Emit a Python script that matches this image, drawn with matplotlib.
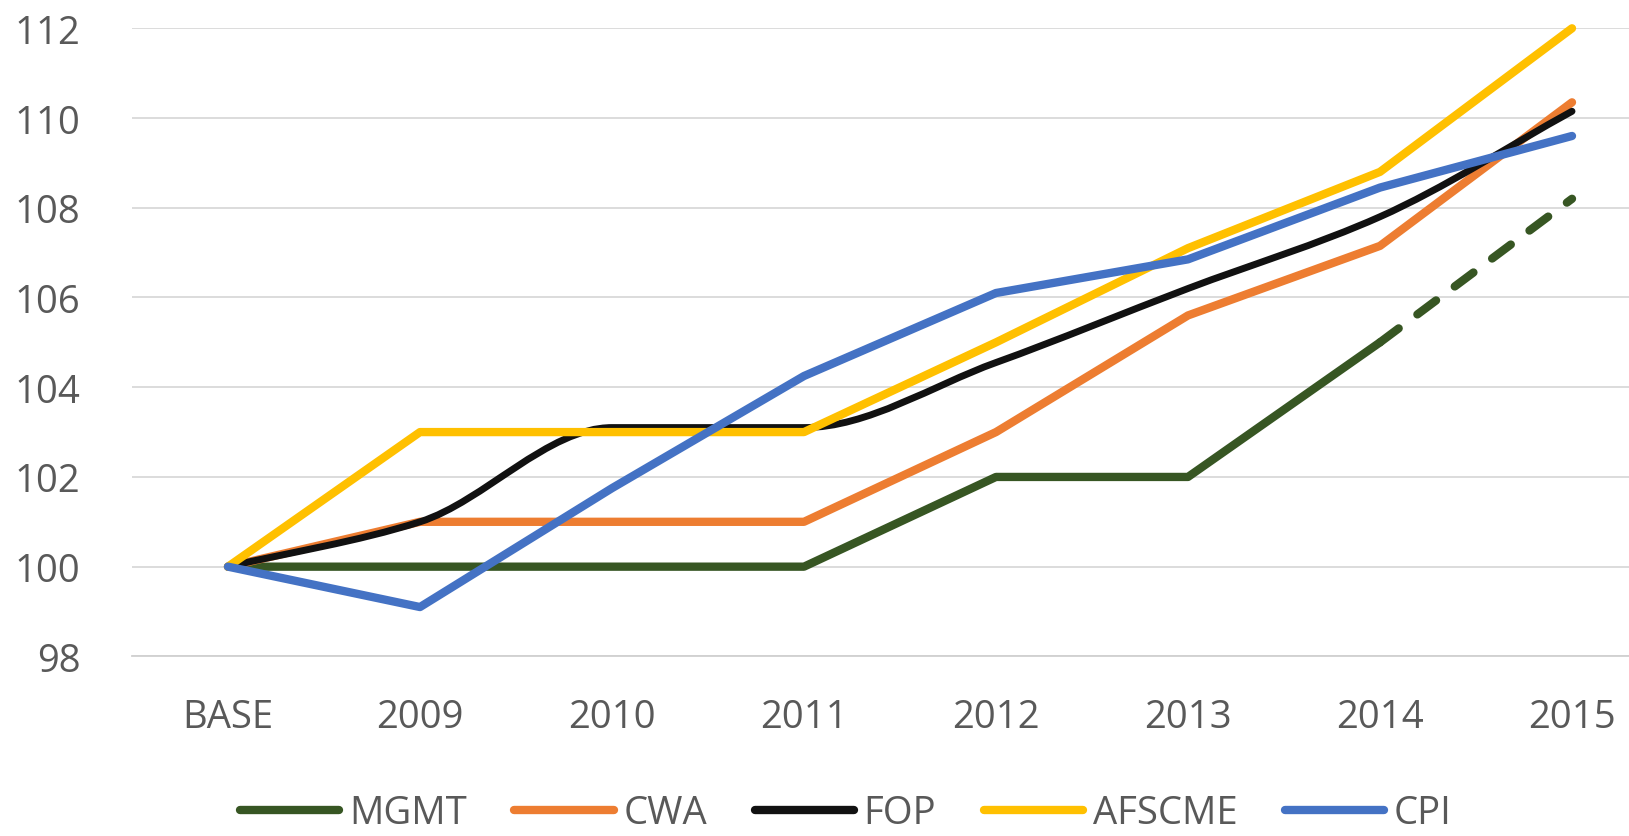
import matplotlib
matplotlib.use("Agg")
import matplotlib.pyplot as plt
from matplotlib.path import Path
from matplotlib.patches import PathPatch
from matplotlib.lines import Line2D
import numpy as np

# Wage index by group, base year = 100
categories = ["BASE", "2009", "2010", "2011", "2012", "2013", "2014", "2015"]
mgmt = [100, 100, 100, 100, 102, 102, 105, 108.2]
cwa = [100, 101, 101, 101, 103, 105.6, 107.15, 110.35]
fop = [100, 101, 103.1, 103.1, 104.55, 106.2, 107.8, 110.15]
afscme = [100, 103, 103, 103, 105, 107.1, 108.8, 112]
cpi = [100, 99.1, 101.75, 104.25, 106.1, 106.85, 108.45, 109.6]
series_names = ["MGMT", "CWA", "FOP", "AFSCME", "CPI"]
y_ticks = [98, 100, 102, 104, 106, 108, 110, 112]

colors = {
    "MGMT": "#375623",
    "CWA": "#ED7D31",
    "FOP": "#111111",
    "AFSCME": "#FFC000",
    "CPI": "#4472C4",
}
text_color = "#595959"
font = "Open Sans"
fs = 27.5
lw = 6.0

W, H = 1629, 837
fig = plt.figure(figsize=(W / 100, H / 100), dpi=100)
ax = fig.add_axes([132 / W, 1 - 657.4 / H, 1536 / W, (657.4 - 29.3) / H])

x = np.arange(len(categories))

# MGMT: solid through 2014, dashed projection to 2015
ax.plot(x[:7], mgmt[:7], color=colors["MGMT"], lw=lw, solid_capstyle="round",
        solid_joinstyle="round", clip_on=False, zorder=3)
ax.plot(x[6:], mgmt[6:], color=colors["MGMT"], lw=lw, linestyle=(0, (2.8, 2.8)),
        dash_capstyle="round", clip_on=False, zorder=3)

ax.plot(x, cwa, color=colors["CWA"], lw=lw, solid_capstyle="round",
        solid_joinstyle="round", clip_on=False, zorder=4)


def smooth_path(xs, ys):
    """Monotone cubic Bezier path through the points (no overshoot)."""
    xs = np.asarray(xs, float)
    ys = np.asarray(ys, float)
    n = len(xs)
    d = np.diff(ys) / np.diff(xs)
    m = np.zeros(n)
    m[0], m[-1] = d[0], d[-1]
    for i in range(1, n - 1):
        if d[i - 1] * d[i] > 0:
            m[i] = 2 / (1 / d[i - 1] + 1 / d[i])
        else:
            m[i] = 0.0
    verts = [(xs[0], ys[0])]
    codes = [Path.MOVETO]
    for i in range(n - 1):
        h = xs[i + 1] - xs[i]
        verts += [(xs[i] + h / 3, ys[i] + m[i] * h / 3),
                  (xs[i + 1] - h / 3, ys[i + 1] - m[i + 1] * h / 3),
                  (xs[i + 1], ys[i + 1])]
        codes += [Path.CURVE4] * 3
    return Path(verts, codes)


ax.add_patch(PathPatch(smooth_path(x, fop), facecolor="none", edgecolor=colors["FOP"],
                       lw=5.0, capstyle="round", joinstyle="round", clip_on=False, zorder=5))
ax.plot(x, afscme, color=colors["AFSCME"], lw=lw, solid_capstyle="round",
        solid_joinstyle="round", clip_on=False, zorder=6)
ax.plot(x, cpi, color=colors["CPI"], lw=lw, solid_capstyle="round",
        solid_joinstyle="round", clip_on=False, zorder=7)

ax.set_xlim(-0.5, len(categories) - 0.5)
ax.set_ylim(98, 112)
ax.set_yticks(y_ticks)
ax.set_xticks(x)
ax.set_xticklabels(categories)

ax.grid(axis="y", color="#D9D9D9", lw=1.3, zorder=0)
ax.set_axisbelow(True)
for side in ["top", "right", "left"]:
    ax.spines[side].set_visible(False)
ax.spines["bottom"].set_color("#D0D0D0")
ax.spines["bottom"].set_linewidth(1.3)

ax.tick_params(axis="both", length=0, colors=text_color)
ax.tick_params(axis="y", pad=37)
ax.tick_params(axis="x", pad=30)
for lab in ax.get_xticklabels() + ax.get_yticklabels():
    lab.set_fontfamily(font)
    lab.set_fontsize(fs)
    lab.set_color(text_color)

handles = [Line2D([0], [0], color=colors[n], lw=lw, solid_capstyle="round")
           for n in series_names]
leg = fig.legend(handles, series_names, loc="center", bbox_to_anchor=(846 / W, 1 - 814 / H),
                 ncol=5, frameon=False, handlelength=2.6, handletextpad=0.25,
                 columnspacing=1.25, prop={"family": font, "size": fs})
for t in leg.get_texts():
    t.set_color(text_color)

fig.savefig("out.png", dpi=100)
